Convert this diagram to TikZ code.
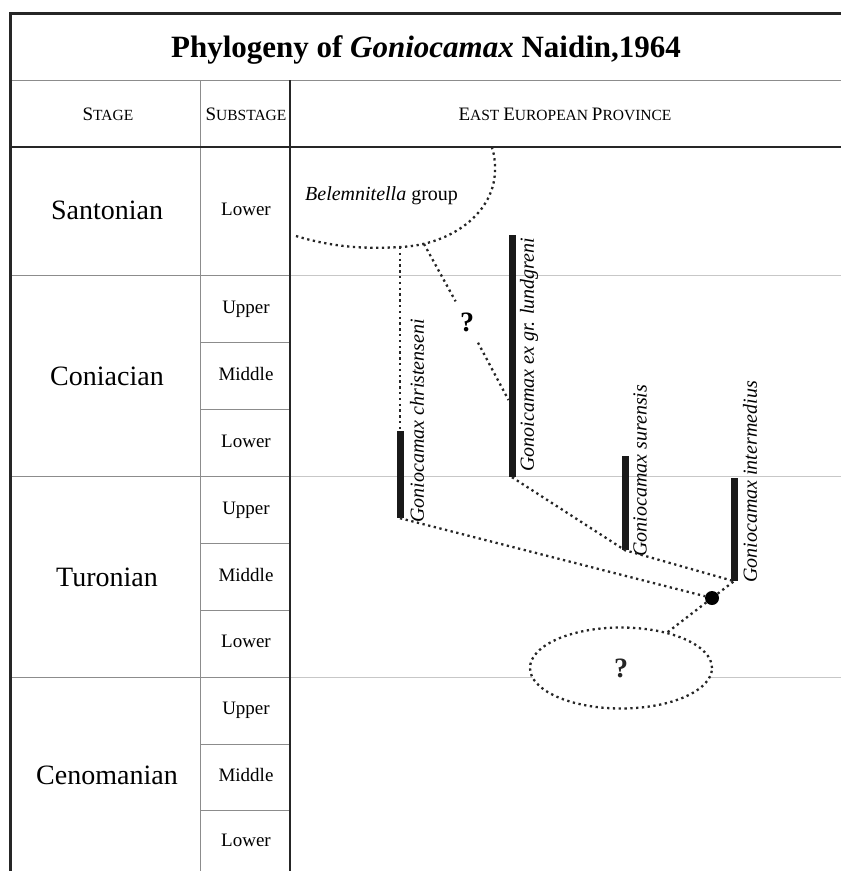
\documentclass[tikz,border=0pt]{standalone}
\usepackage{fontspec}
\setmainfont{Liberation Serif}
\usetikzlibrary{shapes, calc, positioning}
\newcommand{\fakesc}[2]{{\fontsize{19}{19}\selectfont #1}{\fontsize{15.5}{15.5}\selectfont #2}}
\tikzset{
  cell_n/.style = {align=center, inner sep=0pt, text centered},
  title_n/.style = {cell_n, anchor=base, font=\fontsize{31}{31}\selectfont\bfseries},% title
  head_n/.style = {cell_n, text height=13pt, text depth=0pt,
    font=\fontsize{15.5}{15.5}\selectfont},% column head
  stage_n/.style = {cell_n, font=\fontsize{28}{28}\selectfont},% stage
  sub_n/.style = {cell_n, font=\fontsize{19}{19}\selectfont,
    text height=13pt, text depth=4pt},% substage
  rule_d/.style = {line width=1.8pt, black!85},% dark rule
  rule_g/.style = {line width=0.8pt, black!45},% grey rule
  rule_p/.style = {line width=0.8pt, black!22},% rule in the province
  dot_e/.style = {line width=2.3pt, dash pattern=on 2.3pt off 3.5pt, black!85},% dotted link
  bar_n/.style = {rectangle, fill=black!90, inner sep=0pt, minimum width=7pt},% range bar
  taxon_l/.style = {rotate=90, anchor=west, inner sep=0pt,
    font=\fontsize{20}{20}\selectfont\itshape},% taxon name
  q_n/.style = {inner sep=11pt, font=\fontsize{28}{28}\selectfont\bfseries}% question
}

\begin{document}
\begin{tikzpicture}[x=1pt, y=-1pt]
\useasboundingbox (0,0) rectangle (841,871);
% frame and rules
\draw[rule_g] (10,80) -- (841,80);
\draw[rule_g] (200,80) -- (200,871);
\draw[rule_g] (10,275) -- (290,275);
\draw[rule_g] (10,476) -- (290,476);
\draw[rule_g] (10,677) -- (290,677);
\draw[rule_p] (290,275) -- (841,275);
\draw[rule_p] (290,476) -- (841,476);
\draw[rule_p] (290,677) -- (841,677);
\draw[rule_g] (200,342) -- (290,342);
\draw[rule_g] (200,409) -- (290,409);
\draw[rule_g] (200,543) -- (290,543);
\draw[rule_g] (200,610) -- (290,610);
\draw[rule_g] (200,744) -- (290,744);
\draw[rule_g] (200,810) -- (290,810);
\draw[rule_d] (10,147) -- (841,147);
\draw[rule_d] (290,80) -- (290,871);
\draw[line width=3pt, black!85] (10,871) -- (10,13) -- (841,13);

% heads
\node[title_n] (title) at (426,57) {Phylogeny of \textit{Goniocamax} Naidin,1964};
\node[head_n] (h_stage) at (108,114) {\fakesc{S}{TAGE}};
\node[head_n] (h_sub) at (246,114) {\fakesc{S}{UBSTAGE}};
\node[head_n] (h_prov) at (565,114) {\fakesc{E}{AST} \fakesc{E}{UROPEAN} \fakesc{P}{ROVINCE}};

% stages
\node[stage_n] (santonian) at (107,210) {Santonian};
\node[stage_n] (coniacian) at (107,376) {Coniacian};
\node[stage_n] (turonian) at (107,577) {Turonian};
\node[stage_n] (cenomanian) at (107,775) {Cenomanian};

% substages
\node[sub_n] (san_l) at (246,211) {Lower};
\node[sub_n] (con_u) at (246,309) {Upper};
\node[sub_n] (con_m) at (246,376) {Middle};
\node[sub_n] (con_l) at (246,443) {Lower};
\node[sub_n] (tur_u) at (246,510) {Upper};
\node[sub_n] (tur_m) at (246,577) {Middle};
\node[sub_n] (tur_l) at (246,643) {Lower};
\node[sub_n] (cen_u) at (246,710) {Upper};
\node[sub_n] (cen_m) at (246,777) {Middle};
\node[sub_n] (cen_l) at (246,842) {Lower};

% Belemnitella group
\draw[dot_e] (296,236) .. controls (335,248) and (370,249) .. (400,247)
  .. controls (452,245) and (496,212) .. (495,168)
  .. controls (495,160) and (494,153) .. (492,148);
\coordinate (bel_a) at (400,247);
\coordinate (bel_b) at (424,244);
\node[anchor=base west, inner sep=0pt, font=\fontsize{20}{20}\selectfont] (bel)
  at (305,200) {\textit{Belemnitella} group};

% ranges
\node[bar_n, minimum height=87pt] (chr) at (400,474.5) {};
\node[bar_n, minimum height=242pt] (lun) at (512,356) {};
\node[bar_n, minimum height=94pt] (sur) at (625,503) {};
\node[bar_n, minimum height=103pt] (int) at (734,529.5) {};
\node[taxon_l] (chr_t) at (417,523) {Goniocamax christenseni};
\node[taxon_l] (lun_t) at (529,472) {Gonoicamax ex gr. lundgreni};
\node[taxon_l] (sur_t) at (640,557) {Goniocamax surensis};
\node[taxon_l] (int_t) at (750,583) {Goniocamax intermedius};
\coordinate (lun_j) at (508.5,400);

% root and unknown ancestor
\node[circle, fill=black, minimum size=14pt, inner sep=0pt] (root) at (712,598) {};
\node[ellipse, draw, dot_e, fill=white, minimum width=182pt, minimum height=81pt,
  inner sep=0pt, font=\fontsize{28}{28}\selectfont\bfseries] (q_low) at (621,668) {?};
\node[q_n] (q_up) at (467,322) {?};

% links
\draw[dot_e] (bel_a) -- (chr.north);
\draw[dot_e] (bel_b) -- (q_up) -- (lun_j);
\draw[dot_e] (lun.south) -- (sur.south) -- (int.south);
\draw[dot_e] (chr.south) -- (root);
\draw[dot_e] (root) -- (int.south);
\draw[dot_e] (root) -- (q_low);
\end{tikzpicture}
\end{document}
